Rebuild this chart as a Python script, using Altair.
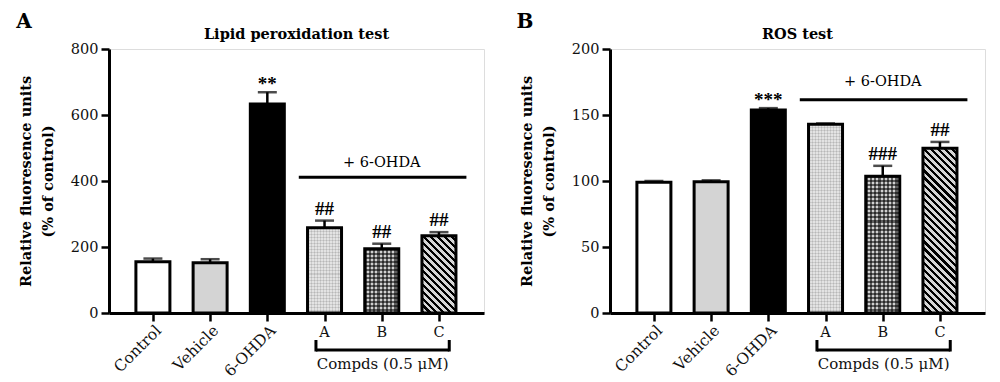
import altair as alt
import pandas as pd
import math

# ---------------- data ----------------
groups = ["Control", "Vehicle", "6-OHDA", "A", "B", "C"]
group_idx = [0, 1, 2, 3, 4, 5]

lipid_mean = [155, 152, 633, 258, 195, 234]
lipid_err = [10, 11, 36, 22, 15, 11]
lipid_sig = ["", "", "**", "##", "##", "##"]

ros_mean = [99.0, 99.5, 153.7, 142.9, 103.6, 124.8]
ros_err = [1.0, 1.0, 1.5, 0.7, 7.9, 4.8]
ros_sig = ["", "", "***", "", "###", "##"]

lipid_ticks = [0, 200, 400, 600, 800]
ros_ticks = [0, 50, 100, 150, 200]

rotated_labels = ["Control", "Vehicle", "6-OHDA"]
flat_labels = ["A", "B", "C"]
bracket_text = "Compds (0.5 \u03bcM)"
treat_text = "+ 6-OHDA"
y_title = ["Relative fluoresence units", "(% of control)"]

# annotation anchors (data units)
lipid_treat_line_y = 411
lipid_treat_text_y = 456
ros_treat_line_y = 161.5
ros_treat_text_y = 175
treat_line_x = [2.55, 5.48]
bracket_x = [2.85, 5.18]
label_x_shift = 0.1

# ---------------- style ----------------
W, H = 375, 264
BAR = 34
FILLS = ["#ffffff", "#d4d4d4", "#000000", "#e3e3e3", "#d0d0d0", "#d6d6d6"]
SERIF = "DejaVu Serif"
XDOM = [-0.68, 5.7]


def stops_stripes(n, duty, on, off):
    st = []
    for k in range(n):
        a = k / n
        b = (k + duty) / n
        c = (k + 1) / n
        st += [alt.GradientStop(offset=a, color=on), alt.GradientStop(offset=b, color=on),
               alt.GradientStop(offset=b, color=off), alt.GradientStop(offset=c, color=off)]
    return st


def diag_gradient(w, h, period, duty, on, off):
    t = (h + w) / (h * h + w * w)
    n = max(1, round((h + w) / (math.sqrt(2) * period)))
    return alt.LinearGradient(gradient="linear", x1=0, y1=1, x2=t * w, y2=1 - t * h,
                              stops=stops_stripes(n, duty, on, off))


def vstripes(w, period, duty, on):
    n = max(1, round(w / period))
    return alt.LinearGradient(gradient="linear", x1=0, y1=0, x2=1, y2=0,
                              stops=stops_stripes(n, duty, on, "rgba(0,0,0,0)"))


def hstripes(h, period, duty, on):
    n = max(1, round(h / period))
    return alt.LinearGradient(gradient="linear", x1=0, y1=0, x2=0, y2=1,
                              stops=stops_stripes(n, duty, on, "rgba(0,0,0,0)"))


def panel(mean, err, sig, ymax, yticks, title, letter, line_y, text_y):
    df = pd.DataFrame({
        "group": groups, "idx": group_idx, "mean": mean,
        "top": [m + e for m, e in zip(mean, err)], "sig": sig, "fill": FILLS,
    })
    xs = alt.Scale(domain=XDOM, nice=False, zero=False)
    ys = alt.Scale(domain=[0, ymax], nice=False)
    xax = alt.Axis(
        values=group_idx, labels=False, title=None, grid=False, tickSize=8,
        tickWidth=2.5, tickColor="black", domainColor="black", domainWidth=3)
    yax = alt.Axis(
        values=yticks, title=y_title, grid=False, tickSize=8, tickWidth=2.5,
        tickColor="black", domainColor="black", domainWidth=3,
        labelFont=SERIF, labelFontSize=14.5, labelColor="#111", labelPadding=3,
        titleFont=SERIF, titleFontSize=14.5, titleFontWeight="bold", titleColor="black",
        titleLineHeight=22, titlePadding=15)

    def X(f):
        return alt.X(f, scale=xs, axis=xax)

    def Y(f):
        return alt.Y(f, scale=ys, axis=yax)

    base = alt.Chart(df)
    layers = []
    layers.append(base.mark_bar(size=BAR, strokeWidth=0).encode(
        x=X("idx:Q"), y=Y("mean:Q"), fill=alt.Fill("fill:N", scale=None)))

    def hpx(g):
        return mean[groups.index(g)] / ymax * H

    # A: fine dotted texture
    hA = hpx("A")
    for grad in (vstripes(BAR, 3, 0.34, "rgba(0,0,0,0.10)"), hstripes(hA, 3, 0.34, "rgba(0,0,0,0.10)")):
        layers.append(base.transform_filter(alt.datum.group == "A").mark_bar(
            size=BAR, fill=grad, strokeWidth=0).encode(x=X("idx:Q"), y=Y("mean:Q")))
    # B: checkered
    hB = hpx("B")
    for grad in (vstripes(BAR, 4, 0.5, "rgba(0,0,0,0.55)"), hstripes(hB, 4, 0.5, "rgba(0,0,0,0.55)")):
        layers.append(base.transform_filter(alt.datum.group == "B").mark_bar(
            size=BAR, fill=grad, strokeWidth=0).encode(x=X("idx:Q"), y=Y("mean:Q")))
    # C: diagonal stripes
    hC = hpx("C")
    layers.append(base.transform_filter(alt.datum.group == "C").mark_bar(
        size=BAR, fill=diag_gradient(BAR, hC, 5, 0.45, "#000000", "#d6d6d6"), strokeWidth=0
    ).encode(x=X("idx:Q"), y=Y("mean:Q")))

    # outlines
    layers.append(base.mark_bar(size=BAR, fillOpacity=0, stroke="black", strokeWidth=3).encode(
        x=X("idx:Q"), y=Y("mean:Q")))
    # error bars
    layers.append(base.mark_rule(color="black", strokeWidth=2.5).encode(
        x=X("idx:Q"), y=Y("mean:Q"), y2=alt.Y2("top:Q")))
    layers.append(base.mark_tick(orient="horizontal", size=19, thickness=2.5, color="black").encode(
        x=X("idx:Q"), y=Y("top:Q")))
    # significance marks
    layers.append(base.transform_filter("indexof(datum.sig, '*') >= 0").mark_text(
        font="Liberation Serif", fontWeight="bold", fontSize=19, baseline="alphabetic", dy=-2,
        color="black").encode(x=X("idx:Q"), y=Y("top:Q"), text="sig:N"))
    layers.append(base.transform_filter("indexof(datum.sig, '#') >= 0").mark_text(
        font="Liberation Serif", fontWeight="bold", fontSize=19, baseline="alphabetic", dy=-6,
        color="black").encode(x=X("idx:Q"), y=Y("top:Q"), text="sig:N"))

    # x labels
    rot = pd.DataFrame({"label": rotated_labels, "idx": group_idx[:3]})
    layers.append(alt.Chart(rot).transform_calculate(lx=f"datum.idx + {label_x_shift}").mark_text(
        angle=315, align="right", baseline="middle", font=SERIF, fontSize=15.5, color="#111"
    ).encode(x=X("lx:Q"), y=alt.value(H + 15), text="label:N"))
    flat = pd.DataFrame({"label": flat_labels, "idx": group_idx[3:]})
    layers.append(alt.Chart(flat).mark_text(
        align="center", baseline="alphabetic", font=SERIF, fontSize=14.5, color="#111"
    ).encode(x=X("idx:Q"), y=alt.value(H + 24), text="label:N"))

    # bracket under A-C
    br = pd.DataFrame({"x": [bracket_x[0]], "x2": [bracket_x[1]]})
    layers.append(alt.Chart(br).mark_rule(color="black", strokeWidth=3).encode(
        x=X("x:Q"), x2="x2:Q", y=alt.value(H + 37)))
    brv = pd.DataFrame({"x": bracket_x})
    layers.append(alt.Chart(brv).mark_rule(color="black", strokeWidth=3).encode(
        x=X("x:Q"), y=alt.value(H + 27), y2=alt.value(H + 38.5)))
    bt = pd.DataFrame({"t": [bracket_text], "x": [sum(bracket_x) / 2]})
    layers.append(alt.Chart(bt).mark_text(font=SERIF, fontSize=15, baseline="middle", color="#111").encode(
        x=X("x:Q"), y=alt.value(H + 51), text="t:N"))

    # + 6-OHDA line and text
    tl = pd.DataFrame({"x": [treat_line_x[0]], "x2": [treat_line_x[1]], "y": [line_y]})
    layers.append(alt.Chart(tl).mark_rule(color="black", strokeWidth=3).encode(
        x=X("x:Q"), x2="x2:Q", y=Y("y:Q")))
    tt = pd.DataFrame({"t": [treat_text], "x": [4.0], "y": [text_y]})
    layers.append(alt.Chart(tt).mark_text(font=SERIF, fontSize=14.5, baseline="middle", color="black").encode(
        x=X("x:Q"), y=Y("y:Q"), text="t:N"))

    # title and panel letter
    layers.append(alt.Chart(pd.DataFrame({"t": [title]})).mark_text(
        font=SERIF, fontWeight="bold", fontSize=14.5, baseline="middle", color="black"
    ).encode(x=alt.value(W / 2), y=alt.value(-14), text="t:N"))
    layers.append(alt.Chart(pd.DataFrame({"t": [letter]})).mark_text(
        font=SERIF, fontWeight="bold", fontSize=20, baseline="middle", color="black"
    ).encode(x=alt.value(-85), y=alt.value(-27), text="t:N"))

    return alt.layer(*layers).properties(width=W, height=H)


left = panel(lipid_mean, lipid_err, lipid_sig, 800, lipid_ticks, "Lipid peroxidation test", "A",
             lipid_treat_line_y, lipid_treat_text_y)
right = panel(ros_mean, ros_err, ros_sig, 200, ros_ticks, "ROS test", "B",
              ros_treat_line_y, ros_treat_text_y)

chart = alt.hconcat(left, right, spacing=31).configure_view(strokeWidth=0).configure(
    background="white", padding={"left": 7, "top": 3, "right": 3, "bottom": 5})

chart.save("out.html", embed_options={"renderer": "svg", "actions": False})
